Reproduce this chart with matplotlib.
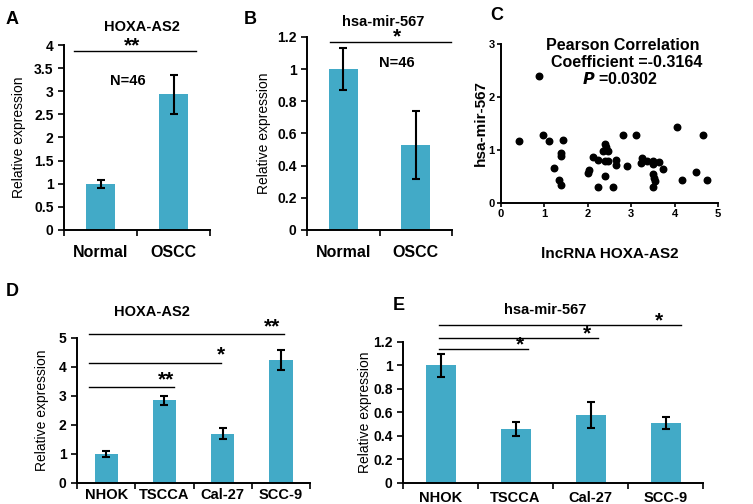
import numpy as np
import matplotlib
matplotlib.use("Agg")
import matplotlib.pyplot as plt
from matplotlib.ticker import FormatStrFormatter, FixedLocator

plt.rcParams['font.family'] = ['Liberation Sans', 'DejaVu Sans']

BAR_COLOR = '#42aac7'

# panel A / B: tissue data
tissue_groups = ['Normal', 'OSCC']
hoxa_tissue = [1.0, 2.93]
hoxa_tissue_err = [0.09, 0.43]
mir_tissue = [1.0, 0.53]
mir_tissue_err = [0.13, 0.21]

# panel C: correlation scatter
lnc_x = [0.41, 0.88, 0.97, 1.11, 1.44, 1.38, 1.38, 1.23, 1.34, 1.38,
         2.02, 2.00, 2.13, 2.23, 2.24, 2.40, 2.42, 2.36, 2.40, 2.47,
         2.40, 2.47, 2.59, 2.65, 2.64, 2.82, 2.90, 3.11, 3.26, 3.23,
         3.36, 3.51, 3.51, 3.51, 3.53, 3.55, 3.51, 3.65, 3.73, 4.06,
         4.16, 4.49, 4.65, 4.74]
mir_y = [1.17, 2.39, 1.28, 1.17, 1.19, 0.94, 0.88, 0.66, 0.43, 0.34,
         0.63, 0.56, 0.86, 0.81, 0.30, 1.11, 1.06, 0.99, 0.80, 0.80,
         0.51, 0.99, 0.30, 0.82, 0.71, 1.28, 0.70, 1.28, 0.85, 0.75,
         0.80, 0.80, 0.73, 0.54, 0.48, 0.42, 0.31, 0.77, 0.65, 1.44,
         0.43, 0.59, 1.28, 0.43]

# panel D / E: cell lines
cell_lines = ['NHOK', 'TSCCA', 'Cal-27', 'SCC-9']
hoxa_cells = [1.0, 2.85, 1.70, 4.25]
hoxa_cells_err = [0.10, 0.16, 0.18, 0.35]
mir_cells = [1.0, 0.46, 0.58, 0.51]
mir_cells_err = [0.10, 0.06, 0.11, 0.05]


def bar_panel(ax, labels, vals, errs, ylim, ystep, xpad, xfs=10.5, width=0.4):
    x = np.arange(len(labels))
    ax.bar(x, vals, width=width, color=BAR_COLOR, zorder=2)
    ax.errorbar(x, vals, yerr=errs, fmt='none', ecolor='black',
                elinewidth=1.5, capsize=3, capthick=1.5, zorder=3)
    ax.set_xlim(-0.5, len(labels) - 0.5)
    ax.set_ylim(*ylim)
    ax.set_yticks(np.arange(ylim[0], ylim[1] + ystep / 2, ystep))
    ax.yaxis.set_major_formatter(FormatStrFormatter('%g'))
    ax.set_xticks(x)
    ax.set_xticklabels(labels, fontweight='bold', fontsize=xfs)
    ax.xaxis.set_minor_locator(FixedLocator(np.arange(-0.5, len(labels), 1.0)))
    ax.tick_params(axis='x', which='major', length=0, pad=xpad)
    ax.tick_params(axis='x', which='minor', length=4, width=1.2, direction='out')
    ax.tick_params(axis='y', length=4, width=1.2, direction='out', labelsize=10)
    for t in ax.get_yticklabels():
        t.set_fontweight('bold')
    ax.spines['top'].set_visible(False)
    ax.spines['right'].set_visible(False)
    ax.spines['left'].set_linewidth(1.4)
    ax.spines['bottom'].set_linewidth(1.4)
    ax.set_ylabel('Relative expression', fontsize=10)


def sig_line(ax, x0, x1, y, stars, sx, sy):
    ax.plot([x0, x1], [y, y], color='black', lw=1.0, clip_on=False)
    ax.text(sx, sy, stars, ha='center', va='center', fontsize=15,
            fontweight='bold', clip_on=False)


fig = plt.figure(figsize=(7.53, 5.04), dpi=100)

# A
axA = fig.add_axes([0.085, 0.5437, 0.1939, 0.367])
bar_panel(axA, tissue_groups, hoxa_tissue, hoxa_tissue_err, (0, 4), 0.5, 11, xfs=11.5)
axA.yaxis.set_label_coords(-0.26, 0.5)
sig_line(axA, -0.36, 1.31, 3.87, '**', 0.43, 3.98)
axA.text(0.38, 3.22, 'N=46', ha='center', va='center', fontsize=10.5, fontweight='bold')
fig.text(142 / 753, 1 - 27 / 504, 'HOXA-AS2', ha='center', va='center', fontsize=10.5, fontweight='bold')

# B
axB = fig.add_axes([0.4077, 0.5437, 0.1926, 0.383])
bar_panel(axB, tissue_groups, mir_tissue, mir_tissue_err, (0, 1.2), 0.2, 11, xfs=11.5)
axB.yaxis.set_label_coords(-0.25, 0.5)
sig_line(axB, -0.18, 1.49, 1.169, '*', 0.74, 1.20)
axB.text(0.74, 1.04, 'N=46', ha='center', va='center', fontsize=10.5, fontweight='bold')
fig.text(383 / 753, 1 - 22 / 504, 'hsa-mir-567', ha='center', va='center', fontsize=10.5, fontweight='bold')

# C
axC = fig.add_axes([0.6653, 0.5972, 0.2882, 0.3155])
axC.scatter(lnc_x, mir_y, s=22, color='black', zorder=3, clip_on=False)
axC.set_xlim(0, 5)
axC.set_ylim(0, 3)
axC.set_xticks(range(0, 6))
axC.set_yticks(range(0, 4))
axC.spines['top'].set_visible(False)
axC.spines['right'].set_visible(False)
axC.spines['left'].set_linewidth(1.4)
axC.spines['bottom'].set_linewidth(1.4)
axC.tick_params(length=3, width=1.2, direction='out', labelsize=8, pad=1.5)
for t in axC.get_xticklabels() + axC.get_yticklabels():
    t.set_fontweight('bold')
axC.set_xlabel('lncRNA HOXA-AS2', fontsize=11, fontweight='bold', labelpad=20)
axC.set_ylabel('hsa-mir-567', fontsize=11, fontweight='bold')
axC.yaxis.set_label_coords(-0.06, 0.5)
axC.text(0.56, 0.99, 'Pearson Correlation', transform=axC.transAxes,
         ha='center', va='center', fontsize=11.5, fontweight='bold')
axC.text(0.58, 0.885, 'Coefficient =-0.3164', transform=axC.transAxes,
         ha='center', va='center', fontsize=11.5, fontweight='bold')
axC.text(0.55, 0.78, r'$\bfit{P}$ =0.0302', transform=axC.transAxes,
         ha='center', va='center', fontsize=11.5, fontweight='bold')

# D
axD = fig.add_axes([0.1023, 0.0417, 0.3094, 0.2877])
bar_panel(axD, cell_lines, hoxa_cells, hoxa_cells_err, (0, 5), 1, 3.5)
axD.yaxis.set_label_coords(-0.12, 0.5)
sig_line(axD, -0.29, 3.05, 5.14, '**', 2.84, 5.38)
sig_line(axD, -0.29, 1.97, 4.14, '*', 1.97, 4.40)
sig_line(axD, -0.29, 1.16, 3.31, '**', 1.02, 3.55)
fig.text(152 / 753, 1 - 312 / 504, 'HOXA-AS2', ha='center', va='center', fontsize=10.5, fontweight='bold')

# E
axE = fig.add_axes([0.5352, 0.0417, 0.3984, 0.2798])
bar_panel(axE, cell_lines, mir_cells, mir_cells_err, (0, 1.2), 0.2, 6)
axE.yaxis.set_label_coords(-0.103, 0.5)
sig_line(axE, -0.02, 3.21, 1.345, '*', 2.91, 1.38)
sig_line(axE, -0.02, 2.10, 1.234, '*', 1.95, 1.27)
sig_line(axE, -0.02, 1.17, 1.14, '*', 1.06, 1.175)
fig.text(545 / 753, 1 - 310 / 504, 'hsa-mir-567', ha='center', va='center', fontsize=10.5, fontweight='bold')

# panel letters
for lbl, xp, yp in [('A', 12, 20), ('B', 250, 20), ('C', 497, 16), ('D', 12, 292), ('E', 399, 306)]:
    fig.text(xp / 753, 1 - yp / 504, lbl, ha='center', va='center', fontsize=13, fontweight='bold')

fig.savefig('out.png', dpi=100)
